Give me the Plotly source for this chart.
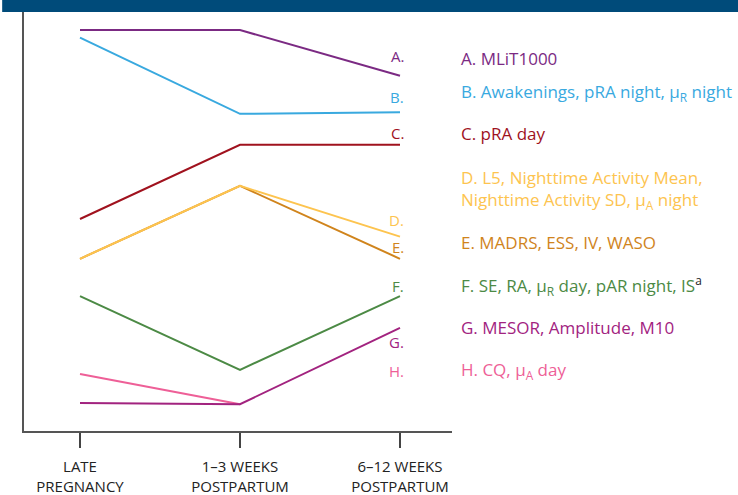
import plotly.graph_objects as go

timepoints = ["LATE<br>PREGNANCY", "1–3 WEEKS<br>POSTPARTUM", "6–12 WEEKS<br>POSTPARTUM"]
x_pos = [0, 1, 2]

# Relative level (arbitrary units, 0 = axis floor, 100 = top)
series_keys = ["A", "B", "C", "D", "E", "F", "G", "H"]
A_vals = [95.7, 95.7, 84.8]
B_vals = [93.9, 75.7, 76.1]
C_vals = [50.6, 68.3, 68.3]
D_vals = [41.1, 58.5, 46.4]
E_vals = [41.1, 58.5, 41.1]
F_vals = [32.2, 14.6, 32.2]
G_vals = [6.7, 6.4, 24.6]
H_vals = [13.6, 6.4, None]

legend_texts = [
    "A. MLiT1000",
    "B. Awakenings, pRA night, μ<sub>R</sub> night",
    "C. pRA day",
    "D. L5, Nighttime Activity Mean,<br>Nighttime Activity SD, μ<sub>A</sub> night",
    "E. MADRS, ESS, IV, WASO",
    "F. SE, RA, μ<sub>R</sub> day, pAR night, IS<sup><span style='color:#222'>a</span></sup>",
    "G. MESOR, Amplitude, M10",
    "H. CQ, μ<sub>A</sub> day",
]
legend_y = [89.0, 80.7, 70.9, 57.6, 45.1, 34.8, 24.8, 14.4]
end_label_y = [89.4, 79.6, 71.1, 50.4, 43.9, 34.6, 21.2, 14.3]

colors = ["#7B2A83", "#39A9DF", "#A0121E", "#FDC44F", "#D0841C", "#4C8A45", "#A2237F", "#EE5F97"]

values = [A_vals, B_vals, C_vals, D_vals, E_vals, F_vals, G_vals, H_vals]

font_family = "Open Sans, Noto Sans, sans-serif"

fig = go.Figure()
draw_order = [7, 6, 5, 4, 3, 2, 1, 0]
for i in draw_order:
    fig.add_trace(go.Scatter(
        x=x_pos, y=values[i], mode="lines",
        line=dict(color=colors[i], width=2),
        showlegend=False, hoverinfo="skip",
    ))

x_min, x_max = -0.35, 2.325
legend_x_paper = (2.37 - x_min) / (x_max - x_min)

for i, k in enumerate(series_keys):
    fig.add_annotation(
        x=2.035, y=end_label_y[i], xref="x", yref="y",
        text=f"{k}.", showarrow=False, xanchor="right", yanchor="middle",
        font=dict(family=font_family, size=15, color=colors[i]),
    )
    fig.add_annotation(
        x=legend_x_paper, y=legend_y[i], xref="paper", yref="y",
        text=legend_texts[i], showarrow=False, xanchor="left", yanchor="middle",
        align="left",
        font=dict(family=font_family, size=17, color=colors[i]),
    )

# header banner
fig.add_shape(type="rect", xref="paper", yref="paper",
              x0=-0.051, x1=1.67, y0=1.0, y1=1.03,
              fillcolor="#004B7A", line_width=0, layer="above")

fig.update_layout(
    width=738, height=495,
    margin=dict(l=24, r=286, t=12, b=64),
    paper_bgcolor="white", plot_bgcolor="white",
    xaxis=dict(
        range=[x_min, x_max], tickvals=x_pos, ticktext=timepoints,
        showgrid=False, zeroline=False, automargin=False,
        showline=True, linecolor="#555", linewidth=2,
        ticks="outside", ticklen=15, tickwidth=1.5, tickcolor="#444",
        ticklabelstandoff=6,
        tickfont=dict(family=font_family, size=15, color="#222"),
        fixedrange=True,
    ),
    yaxis=dict(
        range=[0, 100], showticklabels=False, showgrid=False, zeroline=False,
        showline=True, linecolor="#555", linewidth=2, ticks="", automargin=False,
        fixedrange=True,
    ),
)

fig.write_html("out.html", config={"displayModeBar": False},
               post_script="document.body.style.margin='0';document.body.style.overflow='hidden';")
